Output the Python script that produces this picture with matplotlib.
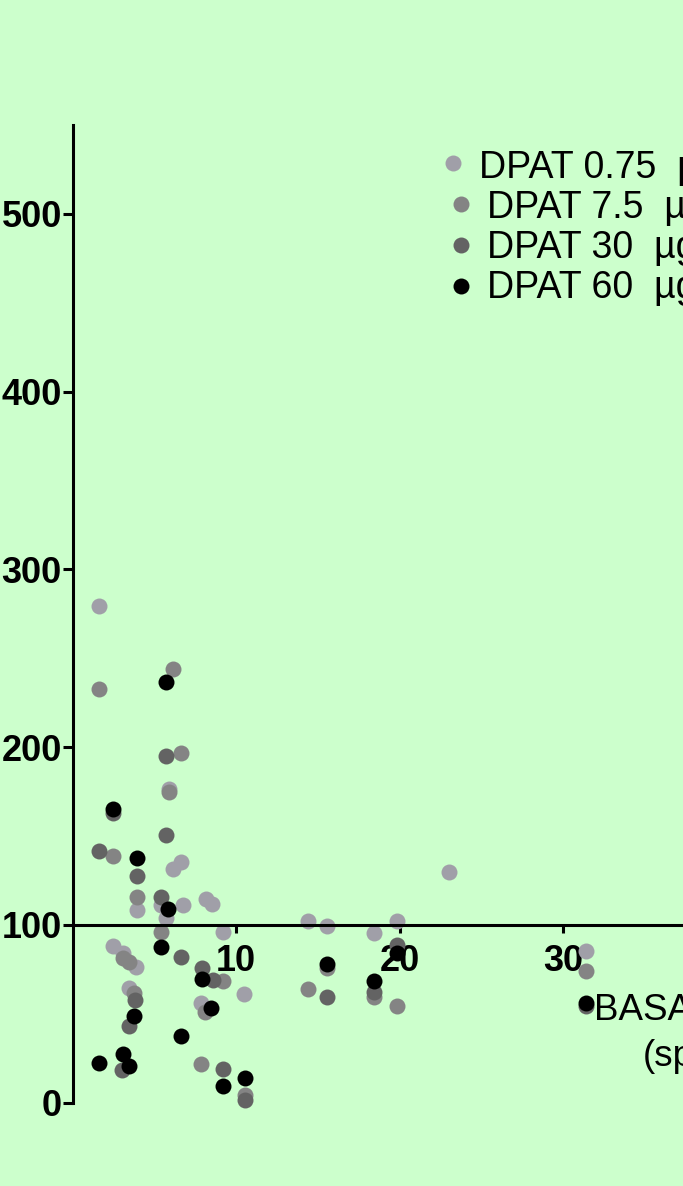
import matplotlib
matplotlib.use("Agg")
import matplotlib.pyplot as plt
from matplotlib.lines import Line2D

plt.rcParams['font.family'] = ['Liberation Sans', 'DejaVu Sans']

# Basal firing rate (x) vs. response (y) for each DPAT dose
dose_labels = ["DPAT 0.75  \u00b5g/kg", "DPAT 7.5  \u00b5g/kg",
               "DPAT 30  \u00b5g/kg", "DPAT 60  \u00b5g/kg"]
dose_colors = ["#A09FA8", "#848484", "#636363", "#000000"]

x_075 = [1.60, 5.90, 6.17, 6.62, 3.93, 5.41, 6.78, 8.15, 8.51, 5.72, 9.19,
         2.46, 3.07, 3.88, 3.47, 10.51, 7.84, 14.42, 15.55, 19.83, 18.46,
         23.05, 31.41]
y_075 = [279.4, 176.6, 131.5, 135.1, 108.5, 111.3, 111.3, 114.5, 111.7,
         103.9, 96.2, 88.2, 84.1, 76.5, 64.3, 61.1, 55.9, 101.9, 99.4,
         101.9, 95.3, 129.5, 85.4]

x_75 = [1.60, 6.17, 6.64, 5.90, 2.48, 3.93, 5.41, 3.07, 3.47, 3.78, 9.22,
        8.10, 7.86, 14.42, 19.83, 18.46, 15.55, 31.41, 10.55]
y_75 = [232.8, 243.7, 196.5, 174.9, 138.9, 115.9, 95.7, 81.2, 79.3, 61.5,
        68.5, 51.2, 21.7, 63.8, 54.4, 59.6, 75.6, 74.1, 4.2]

x_30 = [5.72, 2.48, 5.72, 1.62, 3.93, 5.41, 6.64, 7.90, 8.58, 3.82, 3.47,
        3.01, 9.19, 10.55, 19.83, 15.55, 18.46, 31.41]
y_30 = [195.2, 163.1, 150.7, 141.7, 127.2, 115.4, 81.6, 75.6, 69.0, 57.7,
        43.1, 18.3, 18.7, 1.4, 88.7, 59.6, 62.4, 54.4]

x_60 = [5.72, 2.48, 3.93, 5.86, 5.41, 7.90, 8.47, 3.78, 6.62, 1.62, 3.07,
        3.47, 9.19, 10.55, 15.55, 18.46, 19.83, 31.41]
y_60 = [236.7, 165.2, 137.4, 109.0, 87.4, 69.4, 53.4, 48.9, 37.5, 22.4,
        27.2, 20.6, 9.3, 13.6, 77.9, 68.1, 84.2, 56.2]

x_ticks = [10, 20, 30, 40]
y_ticks = [0, 100, 200, 300, 400, 500]
axis_label = ["BASAL FIRING RATE", "(spikes/s)"]

W, H = 683, 1186
fig = plt.figure(figsize=(W / 100, H / 100), dpi=100)
fig.patch.set_facecolor("#CCFFCC")

x_max = 45
px_per_x = 16.35
left_px, bottom_px, top_px = 72.5, 1102.5, 125
ax = fig.add_axes([left_px / W, (H - bottom_px) / H,
                   x_max * px_per_x / W, (bottom_px - top_px) / H])
ax.set_facecolor("#CCFFCC")
ax.set_xlim(0, x_max)
ax.set_ylim(0, 550)

series = [(x_075, y_075), (x_75, y_75), (x_30, y_30), (x_60, y_60)]
for (xs, ys), col in zip(series, dose_colors):
    ax.plot(xs, ys, linestyle="none", marker="o", markersize=11.5,
            markeredgewidth=0, color=col, clip_on=False)

for s in ("top", "right"):
    ax.spines[s].set_visible(False)
ax.spines["bottom"].set_position(("data", 100))
ax.spines["left"].set_linewidth(2.2)
ax.spines["bottom"].set_linewidth(2.2)

ax.set_xticks(x_ticks)
ax.set_yticks(y_ticks)
ax.set_xticklabels([str(v) for v in x_ticks])
ax.set_yticklabels([str(v) for v in y_ticks])
ax.tick_params(axis="y", direction="out", length=7.5, width=2.2, pad=0.2,
               labelsize=26)
ax.tick_params(axis="x", direction="out", length=6, width=2.2, pad=7.5,
               labelsize=26)
for lab in ax.get_xticklabels() + ax.get_yticklabels():
    lab.set_fontweight("bold")

# Legend rows: marker + label
leg_marker_px = [(453, 163), (461, 204), (461, 245), (461, 286)]
leg_text_px = [(479, 178), (487, 218), (487, 258.5), (487, 298.5)]
for (mx, my), (tx, ty), lab, col in zip(leg_marker_px, leg_text_px,
                                         dose_labels, dose_colors):
    fig.add_artist(Line2D([mx / W], [1 - my / H], transform=fig.transFigure,
                          marker="o", markersize=11.5, markeredgewidth=0,
                          color=col, linestyle="none"))
    fig.text(tx / W, 1 - ty / H, lab, fontsize=27, va="baseline",
             ha="left", color="black")

# X-axis title, two lines
fig.text(594 / W, 1 - 1020 / H, axis_label[0], fontsize=26.5,
         va="baseline", ha="left")
fig.text(643 / W, 1 - 1066 / H, axis_label[1], fontsize=26.5,
         va="baseline", ha="left")

fig.savefig("out.png", dpi=100, facecolor=fig.get_facecolor())
